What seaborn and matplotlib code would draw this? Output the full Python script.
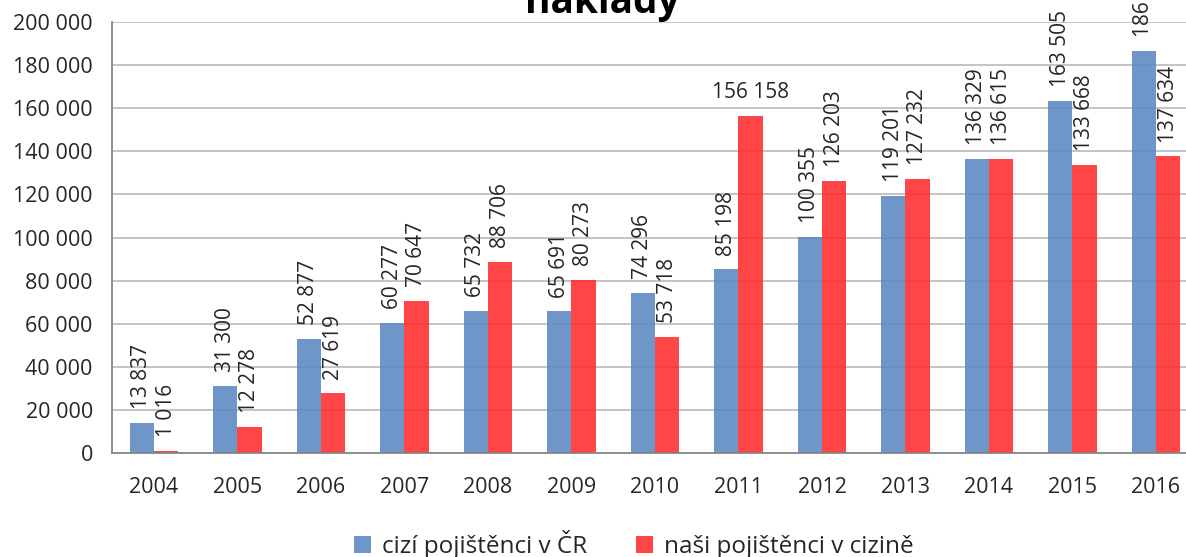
import pandas as pd
import matplotlib.pyplot as plt
import seaborn as sns
from matplotlib.ticker import FuncFormatter, MultipleLocator
from matplotlib.patches import Patch

# ── Data ─────────────────────────────────────────────────────────────────
years = ["2004", "2005", "2006", "2007", "2008", "2009", "2010",
         "2011", "2012", "2013", "2014", "2015", "2016"]
cizi_v_cr = [13837, 31300, 52877, 60277, 65732, 65691, 74296,
             85198, 100355, 119201, 136329, 163505, 186740]
nasi_v_cizine = [1016, 12278, 27619, 70647, 88706, 80273, 53718,
                 156158, 126203, 127232, 136615, 133668, 137634]
series_names = ["cizí pojištěnci v ČR", "naši pojištěnci v cizině"]
title_text = "náklady"

df = pd.DataFrame({
    "rok": years * 2,
    "hodnota": cizi_v_cr + nasi_v_cizine,
    "serie": [series_names[0]] * len(years) + [series_names[1]] * len(years),
})

# ── Style ────────────────────────────────────────────────────────────────
sns.set_style("white")
plt.rcParams["font.family"] = ["Open Sans", "DejaVu Sans"]
TXT = "#262626"
colors = {series_names[0]: "#5b88c2", series_names[1]: "#ff2b2b"}

def fmt(v, pos=None):
    return f"{v:,.0f}".replace(",", " ")

fig = plt.figure(figsize=(11.86, 5.57), dpi=100)
ax = fig.add_axes([0.0946, 0.1867, 0.9153, 0.7738])

sns.barplot(data=df, x="rok", y="hodnota", hue="serie", palette=colors,
            saturation=1, width=0.58, alpha=0.88, linewidth=0, ax=ax, legend=False)

ax.set_xlim(-0.5, 12.5)
ax.set_ylim(0, 200000)
ax.yaxis.set_major_locator(MultipleLocator(20000))
ax.yaxis.set_major_formatter(FuncFormatter(fmt))
ax.grid(axis="y", color="#c4c4c4", linewidth=1.4)
ax.set_axisbelow(True)
ax.set_xlabel("")
ax.set_ylabel("")
ax.tick_params(axis="both", length=0, labelsize=15.5, colors=TXT)
ax.tick_params(axis="y", pad=14)
ax.tick_params(axis="x", pad=17)
for s in ["top", "right"]:
    ax.spines[s].set_visible(False)
for s in ["left", "bottom"]:
    ax.spines[s].set_color("#868686")
    ax.spines[s].set_linewidth(1.3)

# ── Data labels ──────────────────────────────────────────────────────────
for ci, cont in enumerate(ax.containers):
    for bi, bar in enumerate(cont):
        h = bar.get_height()
        x = bar.get_x() + bar.get_width() / 2
        # the 2011 red label sits horizontally in the reference
        rot = 0 if (ci == 1 and years[bi] == "2011") else 90
        ax.annotate(fmt(h), (x, h), xytext=(0, 10), textcoords="offset points",
                    rotation=rot, ha="center", va="bottom", fontsize=15,
                    color=TXT, annotation_clip=False)

# ── Title (clipped by top edge) and legend ──────────────────────────────
fig.text(0.508, 0.976, title_text, ha="center", va="baseline",
         fontsize=28, fontweight="bold", color="black")

handles = [Patch(facecolor=colors[n], alpha=0.88, linewidth=0) for n in series_names]
fig.legend(handles, series_names, loc="center", bbox_to_anchor=(0.5346, 0.022),
           ncol=2, frameon=False, fontsize=17.5, handlelength=0.7, handleheight=0.7,
           handletextpad=0.45, columnspacing=2.0, labelcolor=TXT)

fig.savefig("out.png", dpi=100)
